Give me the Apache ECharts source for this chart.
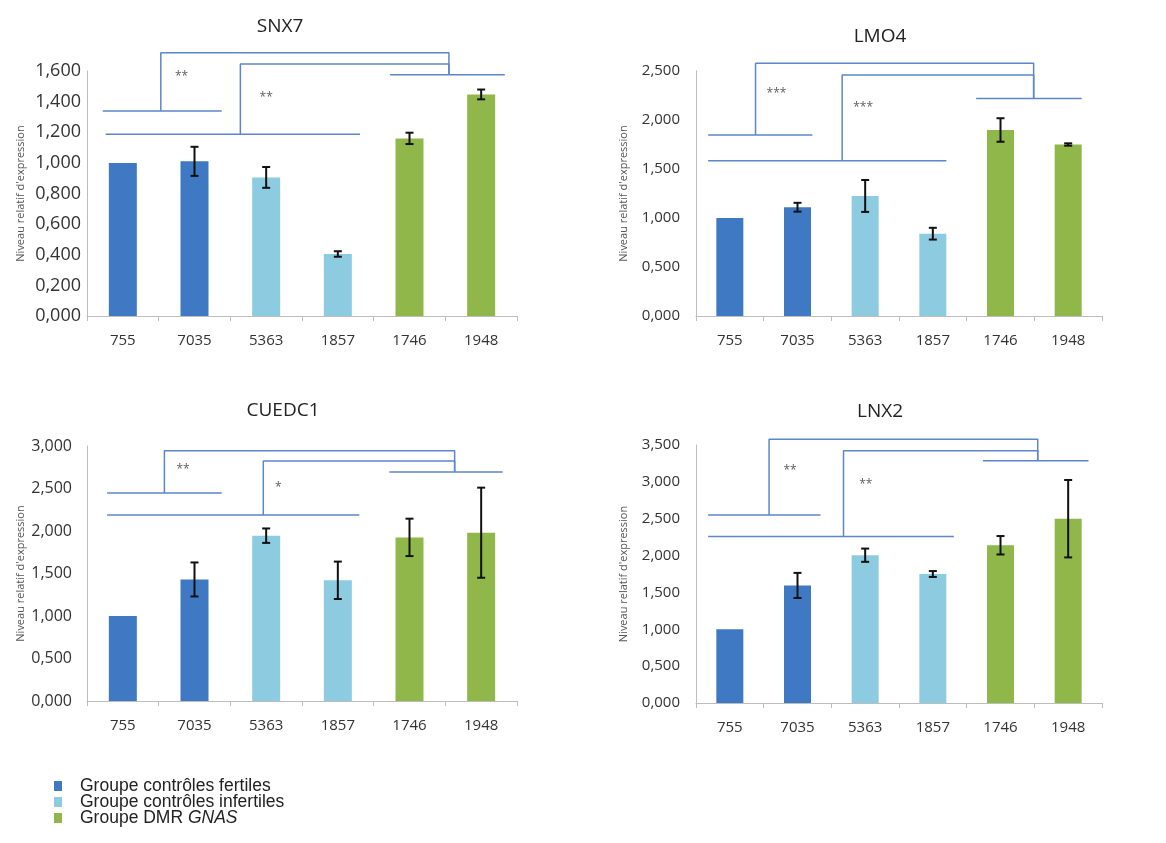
<!DOCTYPE html>
<html>
<head>
<meta charset="utf-8">
<script src="https://cdn.jsdelivr.net/npm/echarts@6/dist/echarts.min.js"></script>
<style>
  html, body { margin: 0; padding: 0; background: #fff; }
  #chart { width: 1166px; height: 843px; }
</style>
</head>
<body>
<div id="chart"></div>
<script>
// categories and groups
var categories = ['755', '7035', '5363', '1857', '1746', '1948'];
var groups = ['Groupe contrôles fertiles', 'Groupe contrôles infertiles', 'Groupe DMR GNAS'];
var groupOfBar = [0, 0, 1, 1, 2, 2];
var groupColors = ['#3f78c3', '#8dcbe0', '#90b74a'];
var titles = ['SNX7', 'LMO4', 'CUEDC1', 'LNX2'];

// relative expression (mean) and error (+/-)
var snx7Values = [1.000, 1.010, 0.905, 0.405, 1.160, 1.447];
var snx7Errors = [0, 0.095, 0.068, 0.018, 0.037, 0.032];
var lmo4Values = [1.000, 1.110, 1.225, 0.840, 1.898, 1.750];
var lmo4Errors = [0, 0.045, 0.163, 0.060, 0.120, 0.012];
var cuedc1Values = [1.000, 1.430, 1.945, 1.420, 1.925, 1.980];
var cuedc1Errors = [0, 0.200, 0.085, 0.220, 0.220, 0.530];
var lnx2Values = [1.000, 1.595, 2.005, 1.750, 2.140, 2.500];
var lnx2Errors = [0, 0.170, 0.090, 0.040, 0.125, 0.525];

// y axis scale per panel
var yMax = [1.6, 2.5, 3.0, 3.5];
var yStep = [0.2, 0.5, 0.5, 0.5];

// significance brackets: group lines [x0, x1, y] (category index units)
var snx7Lines = [[-0.28, 1.38, 1.339], [-0.24, 3.31, 1.187], [3.73, 5.33, 1.576]];
var lmo4Lines = [[-0.32, 1.22, 1.847], [-0.32, 3.20, 1.585], [3.64, 5.20, 2.220]];
var cuedc1Lines = [[-0.22, 1.38, 2.446], [-0.22, 3.30, 2.187], [3.72, 5.30, 2.694]];
var lnx2Lines = [[-0.32, 1.34, 2.551], [-0.32, 3.31, 2.258], [3.74, 5.30, 3.287]];
// links [xStart, yTop]; all links meet at joinX above the DMR line
var snx7Links = [[0.53, 1.720], [1.64, 1.646]];
var lmo4Links = [[0.38, 2.578], [1.66, 2.459]];
var cuedc1Links = [[0.58, 2.945], [1.96, 2.823]];
var lnx2Links = [[0.58, 3.577], [1.68, 3.423]];
var joinX = [4.55, 4.49, 4.63, 4.55];
// stars [x, y, text]
var snx7Stars = [[0.82, 1.561, '**'], [2.00, 1.424, '**']];
var lmo4Stars = [[0.69, 2.265, '***'], [1.97, 2.130, '***']];
var cuedc1Stars = [[0.84, 2.726, '**'], [2.17, 2.513, '*']];
var lnx2Stars = [[0.89, 3.152, '**'], [2.01, 2.958, '**']];

var allValues = [snx7Values, lmo4Values, cuedc1Values, lnx2Values];
var allErrors = [snx7Errors, lmo4Errors, cuedc1Errors, lnx2Errors];
var allLines = [snx7Lines, lmo4Lines, cuedc1Lines, lnx2Lines];
var allLinks = [snx7Links, lmo4Links, cuedc1Links, lnx2Links];
var allStars = [snx7Stars, lmo4Stars, cuedc1Stars, lnx2Stars];

var grids = [
  { left: 87, top: 71, width: 430, height: 245 },
  { left: 696, top: 71, width: 406, height: 245 },
  { left: 87, top: 446, width: 430, height: 255 },
  { left: 696, top: 445, width: 406, height: 258 }
];
var titlePos = [[275, 12], [875, 22], [278, 396], [875, 397]];
var nameGaps = [61, 67, 61, 67];
var barWidths = [28, 27, 28, 27];
var yLabelSizes = [18, 15, 16, 15];
var yLabelMargins = [6, 16, 15, 16];

var font = 'Open Sans';
var bracketColor = '#5b86cc';

var xAxes = [], yAxes = [], series = [], titleList = [];

for (var p = 0; p < 4; p++) {
  titleList.push({
    text: titles[p],
    left: titlePos[p][0],
    top: titlePos[p][1],
    textAlign: 'center',
    textStyle: { fontFamily: font, fontSize: 19, fontWeight: 'normal', color: '#222' }
  });

  xAxes.push({
    type: 'category',
    gridIndex: p,
    data: categories,
    axisLine: { lineStyle: { color: '#bdbdbd' } },
    axisTick: { show: true, length: 5, lineStyle: { color: '#bdbdbd' } },
    axisLabel: { fontFamily: font, fontSize: 15, color: '#333', margin: 17 }
  });

  yAxes.push({
    type: 'value',
    gridIndex: p,
    min: 0,
    max: yMax[p],
    interval: yStep[p],
    name: "Niveau relatif d'expression",
    nameLocation: 'middle',
    nameGap: nameGaps[p],
    nameTextStyle: { fontFamily: font, fontSize: 11, color: '#555' },
    axisLine: { show: true, onZero: false, lineStyle: { color: '#bdbdbd' } },
    axisTick: { show: false },
    splitLine: { show: false },
    axisLabel: {
      fontFamily: font, fontSize: yLabelSizes[p], color: '#333', margin: yLabelMargins[p],
      formatter: function (v) { return v.toFixed(3).replace('.', ','); }
    }
  });

  // bars, one series per group so the legend can refer to them
  for (var g = 0; g < 3; g++) {
    series.push({
      name: groups[g],
      type: 'bar',
      xAxisIndex: p,
      yAxisIndex: p,
      stack: 'panel' + p,
      barWidth: barWidths[p],
      itemStyle: { color: groupColors[g] },
      data: allValues[p].map(function (v, i) { return groupOfBar[i] === g ? v : '-'; })
    });
  }

  // error bars
  var errData = [];
  allValues[p].forEach(function (v, i) {
    var e = allErrors[p][i];
    if (e > 0) errData.push([i, v - e, v + e]);
  });
  series.push({
    type: 'custom',
    xAxisIndex: p,
    yAxisIndex: p,
    silent: true,
    z: 5,
    data: errData,
    renderItem: function (params, api) {
      var x = api.value(0);
      var lo = api.coord([x, api.value(1)]);
      var hi = api.coord([x, api.value(2)]);
      var w = 4;
      var st = { stroke: '#111', lineWidth: 2 };
      return {
        type: 'group',
        children: [
          { type: 'line', shape: { x1: lo[0], y1: lo[1], x2: hi[0], y2: hi[1] }, style: st },
          { type: 'line', shape: { x1: lo[0] - w, y1: lo[1], x2: lo[0] + w, y2: lo[1] }, style: st },
          { type: 'line', shape: { x1: hi[0] - w, y1: hi[1], x2: hi[0] + w, y2: hi[1] }, style: st }
        ]
      };
    }
  });
}

// hidden value x axes for the annotations (category index units)
for (var q = 0; q < 4; q++) {
  xAxes.push({ type: 'value', gridIndex: q, min: -0.5, max: 5.5, show: false });
}

function bracketSeries(p, points) {
  return {
    type: 'line',
    xAxisIndex: 4 + p,
    yAxisIndex: p,
    data: points,
    symbol: 'none',
    clip: false,
    silent: true,
    z: 4,
    lineStyle: { color: bracketColor, width: 1.5 }
  };
}

for (var k = 0; k < 4; k++) {
  var lines = allLines[k];
  lines.forEach(function (l) {
    series.push(bracketSeries(k, [[l[0], l[2]], [l[1], l[2]]]));
  });
  var links = allLinks[k];
  links.forEach(function (lk, j) {
    var baseY = lines[j][2];
    series.push(bracketSeries(k, [
      [lk[0], baseY], [lk[0], lk[1]], [joinX[k], lk[1]], [joinX[k], lines[2][2]]
    ]));
  });
  series.push({
    type: 'scatter',
    xAxisIndex: 4 + k,
    yAxisIndex: k,
    symbolSize: 0,
    silent: true,
    data: allStars[k].map(function (s) {
      return { value: [s[0], s[1]], label: { formatter: s[2] } };
    }),
    label: { show: true, position: 'inside', fontFamily: font, fontSize: 12, color: '#333' }
  });
}

var chart = echarts.init(document.getElementById('chart'));
chart.setOption({
  animation: false,
  backgroundColor: '#fff',
  title: titleList,
  grid: grids,
  xAxis: xAxes,
  yAxis: yAxes,
  legend: {
    data: groups,
    orient: 'vertical',
    left: 49,
    top: 772,
    icon: 'rect',
    itemWidth: 8,
    itemHeight: 10,
    itemGap: -2,
    textStyle: {
      fontFamily: 'Liberation Sans', fontSize: 17.5, color: '#222', lineHeight: 16,
      padding: [0, 0, 0, 13],
      rich: { i: { fontFamily: 'Liberation Sans', fontSize: 17.5, lineHeight: 16, fontStyle: 'italic', color: '#222' } }
    },
    formatter: function (name) {
      return name === 'Groupe DMR GNAS' ? 'Groupe DMR {i|GNAS}' : name;
    }
  },
  series: series
});
</script>
</body>
</html>
